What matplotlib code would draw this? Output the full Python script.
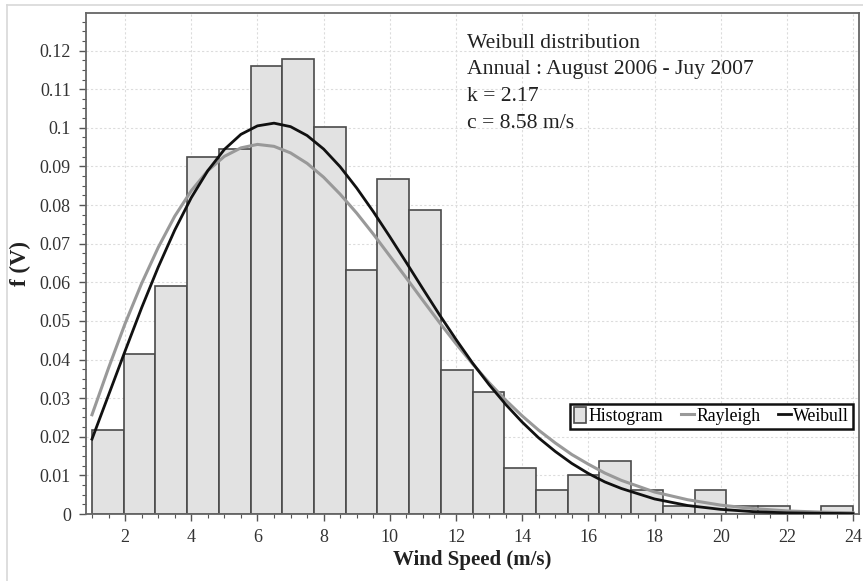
#!/usr/bin/env python3

import numpy as np
import matplotlib
matplotlib.use("Agg")
import matplotlib.pyplot as plt
from matplotlib.ticker import MultipleLocator, FormatStrFormatter
from matplotlib.lines import Line2D


# histogram: 24 equal bins spanning 1 .. 24 m/s
bin_lo = 1.0
bin_hi = 24.0
hist_freq = [
    0.0218, 0.0415, 0.0590, 0.0925, 0.0944, 0.1159, 0.1177, 0.1002,
    0.0631, 0.0868, 0.0787, 0.0374, 0.0315, 0.0120, 0.0062, 0.0100,
    0.0138, 0.0062, 0.0021, 0.0062, 0.0021, 0.0021, 0.0005, 0.0021,
]

# fitted curves
fit_speed = [
    1, 1.5, 2, 2.5, 3, 3.5, 4, 4.5, 5, 5.5, 6, 6.5, 7, 7.5, 8, 8.5,
    9, 9.5, 10, 10.5, 11, 11.5, 12, 12.5, 13, 13.5, 14, 14.5, 15, 15.5,
    16, 16.5, 17, 18, 19, 20, 21, 22, 23, 24,
]
weibull_f = [
    0.0194, 0.0308, 0.0422, 0.0534, 0.0639, 0.0735, 0.0819, 0.0889,
    0.0944, 0.0983, 0.1005, 0.1012, 0.1003, 0.0980, 0.0945, 0.0899,
    0.0844, 0.0783, 0.0718, 0.0651, 0.0583, 0.0516, 0.0452, 0.0391,
    0.0335, 0.0284, 0.0238, 0.0197, 0.0162, 0.0131, 0.0105, 0.0083,
    0.0066, 0.0039, 0.0022, 0.0012, 0.0006, 0.0003, 0.0002, 0.0001,
]
rayleigh_f = [
    0.0257, 0.0378, 0.0493, 0.0597, 0.0690, 0.0771, 0.0837, 0.0889,
    0.0926, 0.0948, 0.0957, 0.0952, 0.0935, 0.0908, 0.0872, 0.0828,
    0.0779, 0.0725, 0.0668, 0.0611, 0.0553, 0.0496, 0.0441, 0.0389,
    0.0340, 0.0295, 0.0254, 0.0217, 0.0184, 0.0154, 0.0129, 0.0106,
    0.0087, 0.0057, 0.0037, 0.0023, 0.0014, 0.0008, 0.0005, 0.0003,
]

info_lines = [
    "Weibull distribution",
    "Annual : August 2006 - Juy 2007",
    "k = 2.17",
    "c = 8.58 m/s",
]

plt.rcParams["font.family"] = "serif"
plt.rcParams["font.serif"] = ["Liberation Serif", "DejaVu Serif"]

fig = plt.figure(figsize=(8.63, 5.81), dpi=100)
ax = fig.add_axes([0.0997, 0.1153, 0.8957, 0.8615])

edges = np.linspace(bin_lo, bin_hi, len(hist_freq) + 1)
widths = np.diff(edges)
bars = ax.bar(edges[:-1], hist_freq, width=widths, align="edge",
              color="#e2e2e2", edgecolor="#4a4a4a", linewidth=1.2,
              label="Histogram", zorder=2)

ray_line, = ax.plot(fit_speed, rayleigh_f, color="#999999", linewidth=2.2,
                    label="Rayleigh", zorder=3)
wei_line, = ax.plot(fit_speed, weibull_f, color="#111111", linewidth=2.0,
                    label="Weibull", zorder=4)

ax.set_xlim(0.82, 24.18)
ax.set_ylim(0, 0.1296)

ax.xaxis.set_major_locator(MultipleLocator(2))
ax.xaxis.set_minor_locator(MultipleLocator(0.5))
ax.yaxis.set_major_locator(MultipleLocator(0.01))
ax.yaxis.set_minor_locator(MultipleLocator(0.0025))
ax.yaxis.set_major_formatter(FormatStrFormatter("%g"))
ax.set_xticks([t for t in range(2, 25, 2)])

ax.tick_params(axis="both", which="major", direction="out", length=5,
               width=1.0, color="#555555", labelsize=13,
               labelcolor="#333333", pad=6)
ax.tick_params(axis="both", which="minor", direction="out", length=3,
               width=0.8, color="#555555")

ax.grid(True, which="major", color="#dcdcdc", linestyle=(0, (2, 2)),
        linewidth=0.8, zorder=0)
ax.set_axisbelow(True)

for side in ["left", "bottom", "top", "right"]:
    ax.spines[side].set_color("#666666")
    ax.spines[side].set_linewidth(1.3)

ax.set_xlabel("Wind Speed (m/s)", fontsize=15, fontweight="bold",
              color="#222222", labelpad=3)
ax.set_ylabel("f (V)", fontsize=16.5, fontweight="bold",
              color="#222222", labelpad=6)

ax.text(0.493, 0.96, "\n".join(info_lines), transform=ax.transAxes,
        ha="left", va="top", fontsize=15.6, color="#222222",
        linespacing=1.55, zorder=5)

leg = ax.legend(handles=[bars, ray_line, wei_line],
                labels=["Histogram", "Rayleigh", "Weibull"],
                loc="lower right", bbox_to_anchor=(0.992, 0.17), ncol=3,
                fontsize=12.8, frameon=True, fancybox=False,
                handlelength=0.7, handleheight=1.0, handletextpad=0.15,
                columnspacing=1.0, borderpad=0.2, borderaxespad=0.0)
leg.get_frame().set_edgecolor("#111111")
leg.get_frame().set_linewidth(1.8)
leg.get_frame().set_facecolor("white")
leg.get_frame().set_alpha(1.0)
leg.set_zorder(6)

# thin light frame around the figure (top and left edges)
fig.add_artist(Line2D([0.008, 1.0], [0.991, 0.991], color="#d8d8d8",
                      linewidth=1.2, transform=fig.transFigure))
fig.add_artist(Line2D([0.008, 0.008], [0.0, 0.991], color="#d8d8d8",
                      linewidth=1.2, transform=fig.transFigure))

fig.savefig("out.png", dpi=100)
